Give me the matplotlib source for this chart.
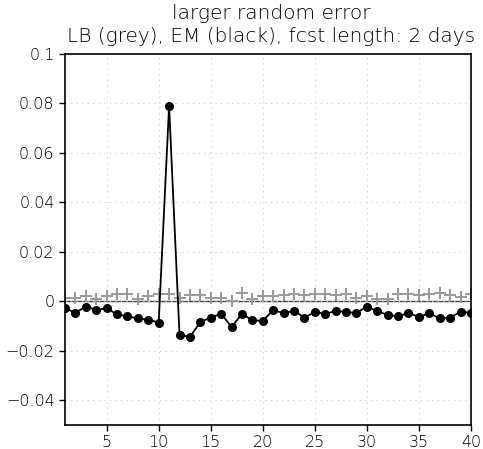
import numpy as np
import matplotlib
matplotlib.use("Agg")
import matplotlib.pyplot as plt

# Data
lead = np.arange(1, 41)
em_black = np.array([-0.0028, -0.0046, -0.0021, -0.0035, -0.0028, -0.0053, -0.0061, -0.0069, -0.0074, -0.0086,
                     0.0789, -0.0135, -0.0144, -0.0084, -0.0066, -0.0050, -0.0104, -0.0051, -0.0076, -0.0080,
                     -0.0035, -0.0048, -0.0038, -0.0066, -0.0043, -0.0051, -0.0039, -0.0043, -0.0047, -0.0021,
                     -0.0040, -0.0055, -0.0061, -0.0047, -0.0063, -0.0048, -0.0069, -0.0066, -0.0042, -0.0046])
lb_grey = np.array([0.0015, 0.0012, 0.0021, 0.0011, 0.0021, 0.0028, 0.0028, 0.0011, 0.0021, 0.0028,
                    0.0028, 0.0015, 0.0025, 0.0025, 0.0015, 0.0015, 0.0001, 0.0035, 0.0011, 0.0020,
                    0.0022, 0.0024, 0.0031, 0.0024, 0.0028, 0.0031, 0.0024, 0.0031, 0.0015, 0.0021,
                    0.0011, 0.0011, 0.0031, 0.0028, 0.0024, 0.0031, 0.0035, 0.0024, 0.0019, 0.0031])

title1 = "larger random error"
title2 = "LB (grey), EM (black), fcst length: 2 days"
yticks = [-0.04, -0.02, 0, 0.02, 0.04, 0.06, 0.08, 0.1]
ytick_labels = ["\u22120.04", "\u22120.02", "0", "0.02", "0.04", "0.06", "0.08", "0.1"]
xticks = [5, 10, 15, 20, 25, 30, 35, 40]

# Plotting
fig = plt.figure(figsize=(4.83, 4.49), dpi=100)
ax = fig.add_axes([0.1346, 0.0535, 0.8404, 0.8262])

ax.axhline(0, color='#444444', linewidth=1, zorder=1)
ax.plot(lead, lb_grey, linestyle='none', marker='+', markersize=9, markeredgewidth=1.4,
        color='#999999', zorder=2)
ax.plot(lead, em_black, color='black', linewidth=1.3, marker='o', markersize=5.5, zorder=3)

# Axes styling
ax.set_xlim(1, 40)
ax.set_ylim(-0.05, 0.1)
ax.set_xticks(xticks)
ax.set_yticks(yticks)
ax.set_yticklabels(ytick_labels)
ax.tick_params(labelsize=11.5, length=4, width=1, direction='out', colors='black')
for lab in ax.get_xticklabels() + ax.get_yticklabels():
    lab.set_fontweight('light')
ax.grid(True, linestyle=(0, (1, 4)), color='#d0d0d0', linewidth=0.8)
for sp in ax.spines.values():
    sp.set_linewidth(1.2)

# Titles
fig.text(0.561, 0.969, title1, ha='center', va='center', fontsize=14.5, fontweight='light', color='black')
fig.text(0.561, 0.918, title2, ha='center', va='center', fontsize=14.5, fontweight='light', color='black')

plt.savefig('out.png', dpi=100)
